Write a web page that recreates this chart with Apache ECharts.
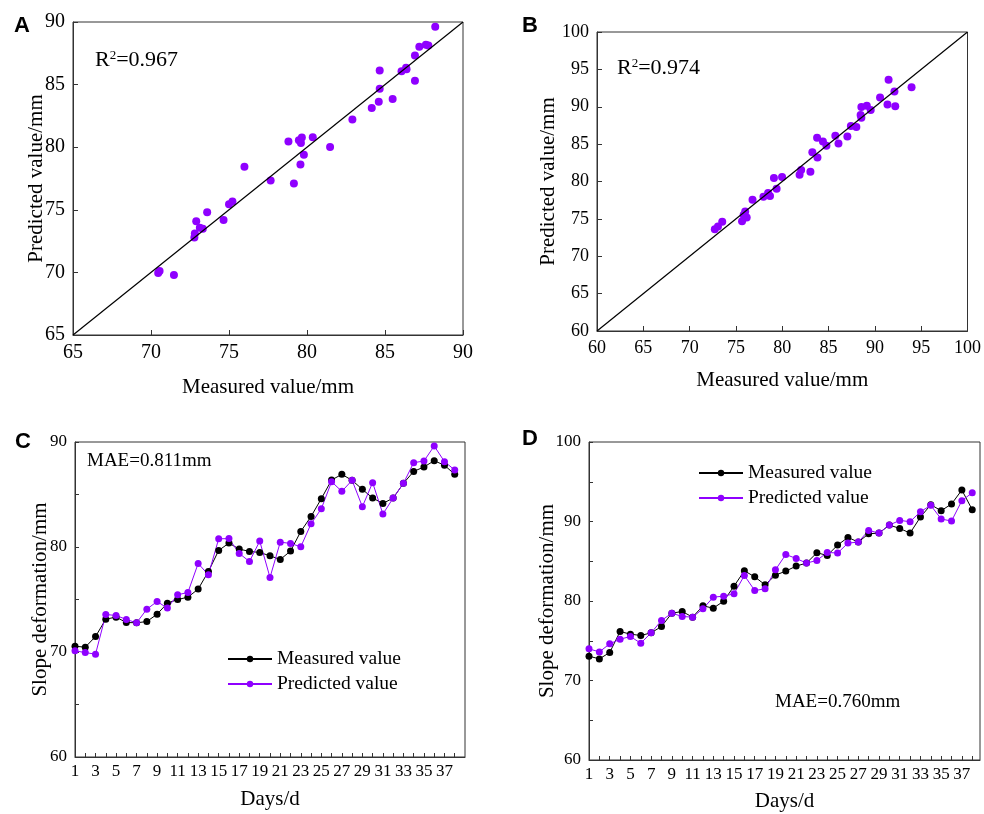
<!DOCTYPE html>
<html>
<head>
<meta charset="utf-8">
<script src="https://cdn.jsdelivr.net/npm/echarts@6/dist/echarts.min.js"></script>
<style>
  html, body { margin: 0; padding: 0; background: #fff; }
  #main { width: 984px; height: 814px; }
</style>
</head>
<body>
<div id="main"></div>
<script>
// day index shared by C and D
var days = [1,2,3,4,5,6,7,8,9,10,11,12,13,14,15,16,17,18,19,20,21,22,23,24,25,26,27,28,29,30,31,32,33,34,35,36,37,38];

// panel A / C data set
var measured1 = [70.55,70.46,71.47,73.13,73.32,72.81,72.78,72.9,73.6,74.65,75.0,75.22,75.99,77.67,79.67,80.37,79.8,79.58,79.48,79.16,78.81,79.61,81.48,82.91,84.6,86.38,86.92,86.35,85.49,84.66,84.15,84.66,86.06,87.2,87.62,88.22,87.78,86.92];
var predicted1 = [70.11,69.95,69.79,73.57,73.48,73.1,72.78,74.08,74.81,74.18,75.45,75.67,78.43,77.35,80.78,80.8,79.39,78.62,80.56,77.1,80.46,80.34,80.02,82.21,83.64,86.22,85.3,86.35,83.84,86.13,83.14,84.66,86.06,88.03,88.19,89.62,88.13,87.33];

// panel B / D data set
var measured2 = [73.06,72.72,73.52,76.16,75.83,75.66,76.0,76.79,78.47,78.68,77.97,79.39,79.1,79.98,81.87,83.8,83.04,82.04,83.25,83.76,84.39,84.77,86.07,85.73,87.03,88.0,87.41,88.46,88.54,89.55,89.13,88.54,90.56,92.11,91.36,92.2,93.96,91.48];
var predicted2 = [73.98,73.6,74.61,75.2,75.53,74.69,76.0,77.55,78.47,78.05,77.97,79.02,80.48,80.61,80.9,83.21,81.32,81.53,83.92,85.85,85.35,84.77,85.1,86.11,86.03,87.28,87.41,88.88,88.54,89.55,90.14,89.97,91.23,92.03,90.31,90.06,92.62,93.62];

var rangeA = [65, 90];
var rangeB = [60, 100];
var r2A = '0.967', r2B = '0.974';
var maeC = '0.811', maeD = '0.760';

var serif = 'Liberation Serif';
var purple = '#8f00ff';

function zip(a, b) {
    return a.map(function (v, i) { return [v, b[i]]; });
}

function axis(grid, min, max, interval, name, gap, fs, extra) {
    var o = {
        type: 'value', gridIndex: grid, min: min, max: max, interval: interval,
        name: name, nameLocation: 'middle', nameGap: gap, nameMoveOverlap: false,
        nameTextStyle: { fontFamily: serif, fontSize: 21, color: '#000' },
        axisLine: { show: true, lineStyle: { color: '#333', width: 1 } },
        axisTick: { show: true, inside: true, length: 5, lineStyle: { color: '#333' } },
        axisLabel: { fontFamily: serif, fontSize: fs, color: '#000', margin: 8 },
        splitLine: { show: false }
    };
    for (var k in extra) o[k] = extra[k];
    return o;
}

function oddDay(v) {
    return (Math.abs(v - Math.round(v)) < 1e-6 && Math.round(v) % 2 === 1) ? String(Math.round(v)) : '';
}
function tens(v) {
    return v % 10 === 0 ? String(v) : '';
}

var frame = { show: true, borderColor: '#333', borderWidth: 1, backgroundColor: 'transparent' };
var dayTick = { show: true, inside: true, length: 4, lineStyle: { color: '#333' } };

var chart = echarts.init(document.getElementById('main'));
var option = {
    animation: false,
    grid: [
        Object.assign({ left: 73, top: 22, width: 390, height: 313 }, frame),
        Object.assign({ left: 597, top: 32, width: 371, height: 299 }, frame),
        Object.assign({ left: 75, top: 442, width: 390, height: 315 }, frame),
        Object.assign({ left: 589, top: 442, width: 391, height: 318 }, frame)
    ],
    xAxis: [
        axis(0, rangeA[0], rangeA[1], 5, 'Measured value/mm', 42, 20),
        axis(1, rangeB[0], rangeB[1], 5, 'Measured value/mm', 39, 18),
        axis(2, 1, 39, 1, 'Days/d', 32, 17, {
            axisLabel: { fontFamily: serif, fontSize: 17, color: '#000', margin: 6, formatter: oddDay, showMaxLabel: false },
            axisTick: dayTick
        }),
        axis(3, 1, 38.75, 1, 'Days/d', 31, 17, {
            axisLabel: { fontFamily: serif, fontSize: 17, color: '#000', margin: 6, formatter: oddDay, showMaxLabel: false },
            axisTick: dayTick
        })
    ],
    yAxis: [
        axis(0, rangeA[0], rangeA[1], 5, 'Predicted value/mm', 26, 20),
        axis(1, rangeB[0], rangeB[1], 5, 'Predicted value/mm', 38, 18),
        axis(2, 60, 90, 5, 'Slope deformation/mm', 24, 17, {
            axisLabel: { fontFamily: serif, fontSize: 17, color: '#000', margin: 8, formatter: tens },
            axisTick: dayTick
        }),
        axis(3, 60, 100, 5, 'Slope deformation/mm', 31, 17, {
            axisLabel: { fontFamily: serif, fontSize: 17, color: '#000', margin: 8, formatter: tens },
            axisTick: dayTick
        })
    ],
    legend: [
        {
            orient: 'vertical', left: 227, top: 649, padding: 0, itemWidth: 44, itemHeight: 8, itemGap: 5,
            data: ['Measured value', 'Predicted value'],
            textStyle: { fontFamily: serif, fontSize: 19.5, color: '#000' }
        },
        {
            orient: 'vertical', left: 698, top: 463, padding: 0, itemWidth: 44, itemHeight: 8, itemGap: 5,
            data: ['Measured value', 'Predicted value'],
            textStyle: { fontFamily: serif, fontSize: 19.5, color: '#000' }
        }
    ],
    series: [
        // A
        { type: 'line', xAxisIndex: 0, yAxisIndex: 0, data: [[rangeA[0], rangeA[0]], [rangeA[1], rangeA[1]]],
          symbol: 'none', lineStyle: { color: '#000', width: 1.2 }, silent: true },
        { type: 'scatter', xAxisIndex: 0, yAxisIndex: 0, data: zip(measured1, predicted1),
          symbolSize: 8, itemStyle: { color: purple, opacity: 1 } },
        // B
        { type: 'line', xAxisIndex: 1, yAxisIndex: 1, data: [[rangeB[0], rangeB[0]], [rangeB[1], rangeB[1]]],
          symbol: 'none', lineStyle: { color: '#000', width: 1.2 }, silent: true },
        { type: 'scatter', xAxisIndex: 1, yAxisIndex: 1, data: zip(measured2, predicted2),
          symbolSize: 8, itemStyle: { color: purple, opacity: 1 } },
        // C
        { name: 'Measured value', type: 'line', xAxisIndex: 2, yAxisIndex: 2, data: zip(days, measured1),
          symbol: 'circle', symbolSize: 7, itemStyle: { color: '#000' }, lineStyle: { color: '#000', width: 1 } },
        { name: 'Predicted value', type: 'line', xAxisIndex: 2, yAxisIndex: 2, data: zip(days, predicted1),
          symbol: 'circle', symbolSize: 7, itemStyle: { color: purple }, lineStyle: { color: purple, width: 1 } },
        // D
        { name: 'Measured value', type: 'line', xAxisIndex: 3, yAxisIndex: 3, data: zip(days, measured2),
          symbol: 'circle', symbolSize: 7, itemStyle: { color: '#000' }, lineStyle: { color: '#000', width: 1 } },
        { name: 'Predicted value', type: 'line', xAxisIndex: 3, yAxisIndex: 3, data: zip(days, predicted2),
          symbol: 'circle', symbolSize: 7, itemStyle: { color: purple }, lineStyle: { color: purple, width: 1 } }
    ],
    graphic: [
        { type: 'text', left: 14, top: 15, style: { text: 'A', font: 'bold 22px "Liberation Sans"', fill: '#000' } },
        { type: 'text', left: 522, top: 15, style: { text: 'B', font: 'bold 22px "Liberation Sans"', fill: '#000' } },
        { type: 'text', left: 15, top: 431, style: { text: 'C', font: 'bold 22px "Liberation Sans"', fill: '#000' } },
        { type: 'text', left: 522, top: 428, style: { text: 'D', font: 'bold 22px "Liberation Sans"', fill: '#000' } },
        { type: 'text', left: 95, top: 49, style: {
            text: '{a|R}{b|2}{a|=' + r2A + '}',
            rich: { a: { fontFamily: serif, fontSize: 22, color: '#000' },
                    b: { fontFamily: serif, fontSize: 13, color: '#000', verticalAlign: 'top' } } } },
        { type: 'text', left: 617, top: 57, style: {
            text: '{a|R}{b|2}{a|=' + r2B + '}',
            rich: { a: { fontFamily: serif, fontSize: 22, color: '#000' },
                    b: { fontFamily: serif, fontSize: 13, color: '#000', verticalAlign: 'top' } } } },
        { type: 'text', left: 87, top: 452, style: { text: 'MAE=' + maeC + 'mm', font: '19px "Liberation Serif"', fill: '#000' } },
        { type: 'text', left: 775, top: 693, style: { text: 'MAE=' + maeD + 'mm', font: '19px "Liberation Serif"', fill: '#000' } }
    ]
};
chart.setOption(option);
</script>
</body>
</html>
